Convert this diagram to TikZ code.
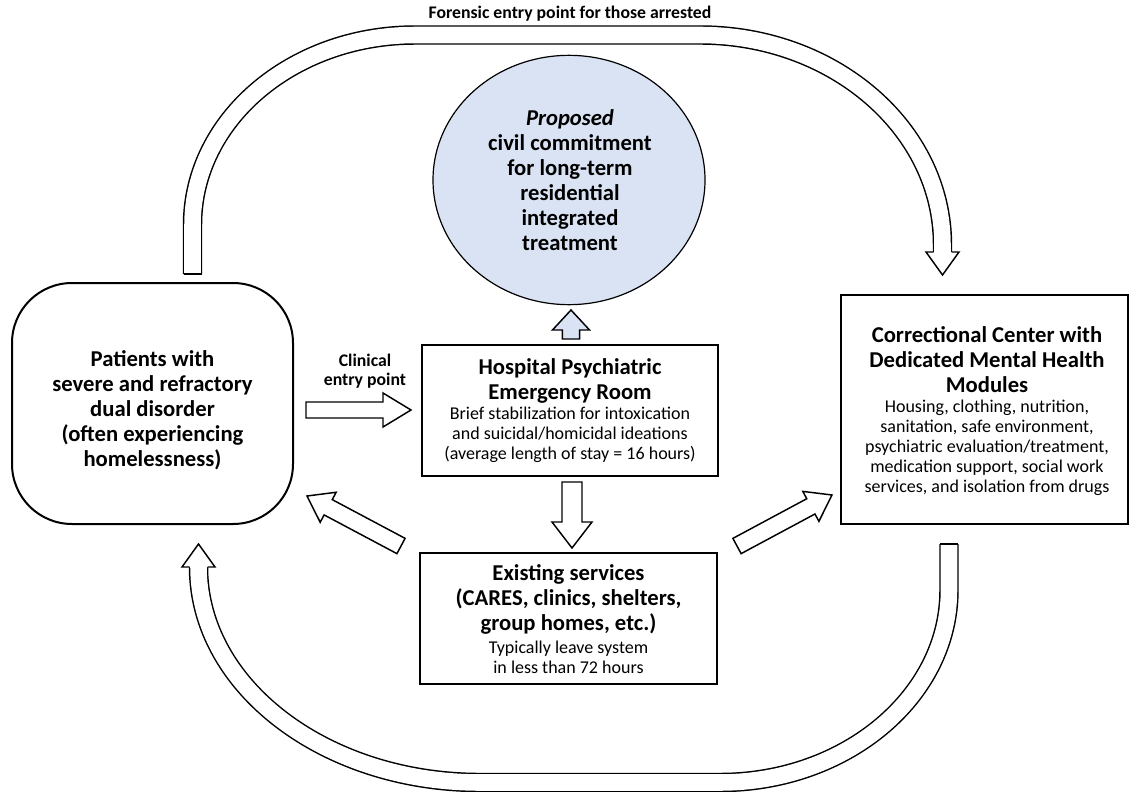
\documentclass[tikz,border=0pt]{standalone}
\usepackage{fontspec}
\setmainfont{Carlito}
\usetikzlibrary{shapes.geometric,calc}
\definecolor{lblue}{RGB}{218,227,243}
\newcommand\ttlfont{\fontsize{17}{18.75}\selectfont\bfseries}
\newcommand\bdyfont{\fontsize{13.5}{15}\selectfont}
\newcommand\lblfont{\fontsize{13.3}{14.25}\selectfont\bfseries}
\tikzset{
  box/.style={draw, line width=1.5pt, inner sep=0pt},
  ttl/.style={align=center, font=\ttlfont, inner sep=0pt},
  bdy/.style={align=center, font=\bdyfont, inner sep=0pt},
  lbl/.style={align=center, font=\lblfont, inner sep=0pt},
  arrowline/.style={line width=1.1pt, line join=miter},
  band/.style={line width=1.1pt, double=white, double distance=12.4pt},
}
\newcommand\blockarrow[6]{%
  \coordinate (baT) at (#1);
  \coordinate (baP) at (#2);
  \coordinate (baH) at ($(baP)!#5!(baT)$);
  \filldraw[arrowline, fill=#6]
    ($(baT)!#3!90:(baP)$) -- ($(baH)!#3!-90:(baT)$) -- ($(baH)!#4!-90:(baT)$) -- (baP)
    -- ($(baH)!#4!90:(baT)$) -- ($(baH)!#3!90:(baT)$) -- ($(baT)!#3!-90:(baP)$) -- cycle;
}
\begin{document}
\begin{tikzpicture}[x=0.75pt,y=-0.75pt]
\useasboundingbox[fill=white] (0,0) rectangle (1131,792);

% ---- U-shaped band arrows
\coordinate (fS) at (192.5,274);
\coordinate (fE) at (942.5,252);
\draw[band] (fS) -- (192.5,225) .. controls (192.5,120) and (292,35) .. (415,35)
  -- (700,35) .. controls (834,35) and (942.5,129) .. (942.5,245) -- (fE);
\draw[arrowline] (183.5,274) -- (201.5,274);
\fill[white] (926,252) -- (942.5,275) -- (959,252) -- cycle;
\draw[arrowline] (933.5,252) -- (926,252) -- (942.5,275) -- (959,252) -- (951.5,252);

\coordinate (bS) at (949,544);
\coordinate (bE) at (198.5,567);
\draw[band] (bS) -- (949,590) .. controls (949,696) and (846.5,782.5) .. (720,782.5)
  -- (480,782.5) .. controls (324.5,782.5) and (198.5,686) .. (bE);
\draw[arrowline] (940,544) -- (958,544);
\fill[white] (182,567) -- (198.5,544) -- (215,567) -- cycle;
\draw[arrowline] (189.5,567) -- (182,567) -- (198.5,544) -- (215,567) -- (207.5,567);

% ---- nodes
\node[box, rounded corners=45pt, minimum width=210.75pt, minimum height=180.75pt] (pat) at (152.5,403.5) {};
\node[ttl] (patT) at (152.5,410) {Patients with\\severe and refractory\\dual disorder\\(often experiencing\\homelessness)};

\node[draw, ellipse, fill=lblue, line width=0.9pt, minimum width=204pt, minimum height=187pt, inner sep=0pt] (civ) at (569,180) {};
\node[ttl] (civT) at (570,180) {\textit{Proposed}\\civil commitment\\for long-term\\residential\\integrated\\treatment};

\node[box, minimum width=222pt, minimum height=98.25pt] (hosp) at (570,410.5) {};
\node[ttl] (hospT) at (570,380.5) {Hospital Psychiatric\\Emergency Room};
\node[bdy] (hospB) at (570,435) {Brief stabilization for intoxication\\and suicidal/homicidal ideations\\(average length of stay = 16 hours)};

\node[box, minimum width=222.75pt, minimum height=98.25pt] (exs) at (568.5,618.5) {};
\node[ttl] (exsT) at (568.5,599) {Existing services\\(CARES, clinics, shelters,\\group homes, etc.)};
\node[bdy] (exsB) at (568.5,657) {Typically leave system\\in less than 72 hours};

\node[box, minimum width=215.25pt, minimum height=171.75pt] (cor) at (984.5,409.5) {};
\node[ttl] (corT) at (987,360) {Correctional Center with\\Dedicated Mental Health\\Modules};
\node[bdy] (corB) at (987,447.5) {Housing, clothing, nutrition,\\sanitation, safe environment,\\psychiatric evaluation/treatment,\\medication support, social work\\services, and isolation from drugs};

\node[lbl] (clin) at (365,371.5) {Clinical\\entry point};
\node[lbl] (fore) at (570,14) {Forensic entry point for those arrested};

% ---- block arrows
\coordinate (c1a) at (306,410);  \coordinate (c1b) at (411,410);
\blockarrow{c1a}{c1b}{6pt}{12.75pt}{21pt}{white}
\coordinate (c2a) at (571,339);  \coordinate (c2b) at (571,310);
\blockarrow{c2a}{c2b}{6.4pt}{13.9pt}{15pt}{lblue}
\coordinate (c3a) at (572,482);  \coordinate (c3b) at (572,548);
\blockarrow{c3a}{c3b}{7.5pt}{15pt}{19.5pt}{white}
\coordinate (c4a) at (401,546);  \coordinate (c4b) at (307,496);
\blockarrow{c4a}{c4b}{6.5pt}{12.75pt}{18pt}{white}
\coordinate (c5a) at (737,546);  \coordinate (c5b) at (832,495);
\blockarrow{c5a}{c5b}{6.5pt}{12.75pt}{18pt}{white}
\end{tikzpicture}
\end{document}
